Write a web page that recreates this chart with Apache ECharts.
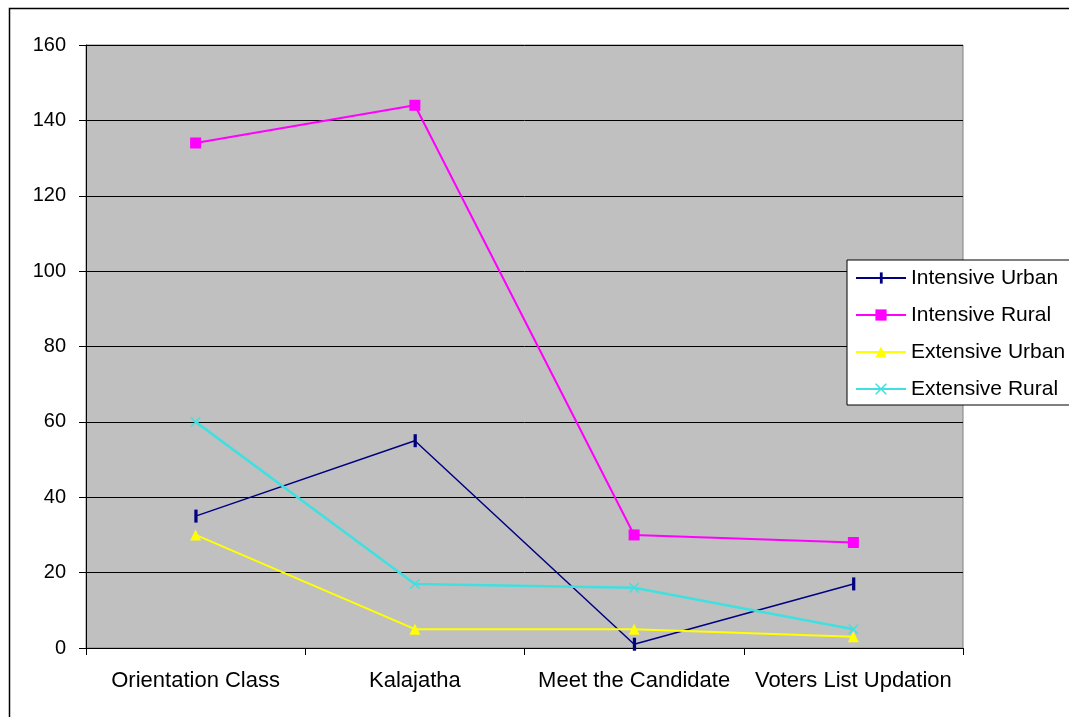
<!DOCTYPE html>
<html>
<head>
<meta charset="utf-8">
<script src="https://cdn.jsdelivr.net/npm/echarts@6/dist/echarts.min.js"></script>
<style>
  html, body { margin: 0; padding: 0; background: #fff; }
  #chart { width: 1069px; height: 717px; }
</style>
</head>
<body>
<div id="chart"></div>
<script>
// categories and series values
const categories = ['Orientation Class', 'Kalajatha', 'Meet the Candidate', 'Voters List Updation']
const intensiveUrban = [35, 55, 1, 17]
const intensiveRural = [134, 144, 30, 28]
const extensiveUrban = [30, 5, 5, 3]
const extensiveRural = [60, 17, 16, 5]

// thin vertical dash inside a square box (the extra moveTo points keep the box square)
const barMark = 'path://M0,0 M10,0 M0,10 M4,0 L6.5,0 L6.5,10 L4,10 Z'
const crossMark = 'path://M0,0 L1,0 L5,4 L9,0 L10,0 L10,1 L6,5 L10,9 L10,10 L9,10 L5,6 L1,10 L0,10 L0,9 L4,5 L0,1 Z'

const chart = echarts.init(document.getElementById('chart'))

function line(name, data, color, symbol, size, width) {
  return {
    name: name,
    type: 'line',
    data: data,
    symbol: symbol,
    symbolSize: size,
    showAllSymbol: true,
    lineStyle: { color: color, width: width },
    itemStyle: { color: color },
    emphasis: { disabled: true },
  }
}

const option = {
  animation: false,
  textStyle: { fontFamily: 'Liberation Sans, Arial, sans-serif' },
  graphic: [
    {
      // outer chart frame: only top and left edges show in the picture
      type: 'polyline',
      shape: { points: [[9.5, 717], [9.5, 8.5], [1069, 8.5]] },
      style: { fill: 'none', stroke: '#000', lineWidth: 1.5 },
      z: -1,
    },
  ],
  grid: {
    left: 86,
    top: 45,
    right: 106,
    bottom: 69,
    show: true,
    backgroundColor: '#c0c0c0',
    borderColor: '#808080',
    borderWidth: 1,
  },
  legend: {
    orient: 'vertical',
    left: 847,
    top: 260,
    backgroundColor: '#fff',
    borderColor: '#000',
    borderWidth: 1,
    padding: [6, 8, 4, 8],
    itemGap: 13,
    itemWidth: 50,
    itemHeight: 14,
    textStyle: { fontSize: 21, color: '#000', lineHeight: 24 },
    data: ['Intensive Urban', 'Intensive Rural', 'Extensive Urban', 'Extensive Rural'],
  },
  xAxis: {
    type: 'category',
    data: categories,
    boundaryGap: true,
    axisLine: { lineStyle: { color: '#000', width: 1 } },
    axisTick: { show: true, length: 7, lineStyle: { color: '#000' } },
    axisLabel: { color: '#000', fontSize: 22, margin: 22, interval: 0, hideOverlap: false },
    splitLine: { show: false },
  },
  yAxis: {
    type: 'value',
    min: 0,
    max: 160,
    interval: 20,
    axisLine: { show: true, lineStyle: { color: '#000', width: 1 } },
    axisTick: { show: true, length: 7, lineStyle: { color: '#000' } },
    axisLabel: { color: '#000', fontSize: 20, margin: 20 },
    splitLine: { show: true, lineStyle: { color: '#000', width: 1 } },
  },
  series: [
    line('Intensive Urban', intensiveUrban, '#000080', barMark, 13, 1.5),
    line('Intensive Rural', intensiveRural, '#ff00ff', 'rect', 11, 2),
    line('Extensive Urban', extensiveUrban, '#ffff00', 'triangle', 11, 2),
    line('Extensive Rural', extensiveRural, '#40e0e0', crossMark, 10, 2.5),
  ],
}
chart.setOption(option)
</script>
</body>
</html>
